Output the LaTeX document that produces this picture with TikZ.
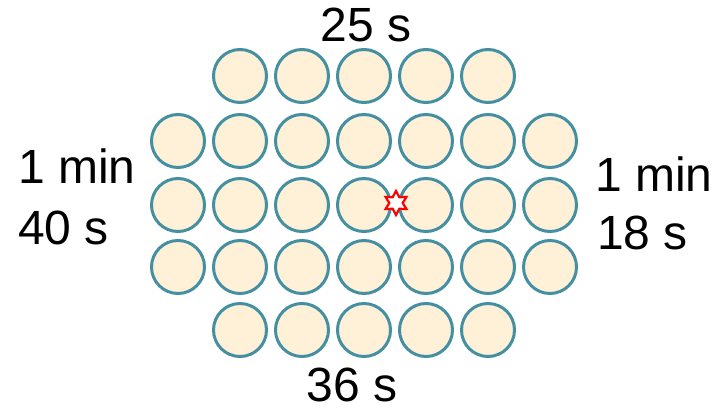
\documentclass[tikz,border=0pt]{standalone}
\usepackage{fontspec}
\setmainfont{Liberation Sans}
\usetikzlibrary{shapes.geometric}
\definecolor{discedge}{RGB}{68,144,162}
\definecolor{discfill}{RGB}{255,240,216}
\tikzset{
  disc/.style={circle, draw=discedge, fill=discfill, line width=3pt, minimum size=53pt, inner sep=0pt},
  timelabel/.style={font=\fontsize{48}{48}\selectfont, inner sep=0pt, anchor=base}
}
\begin{document}
\begin{tikzpicture}[x=1pt, y=-1pt]
  \useasboundingbox (0,0) rectangle (720,411);

  % Top and bottom rows: five discs each
  \foreach \c in {2,...,6} {
    \node[disc] (d-1-\c) at ({178+62*(\c-1)}, 76) {};
    \node[disc] (d-5-\c) at ({178+62*(\c-1)}, 330) {};
  }

  % Middle rows: seven discs each
  \foreach \r/\y in {2/141, 3/205, 4/267} {
    \foreach \c in {1,...,7} {
      \node[disc] (d-\r-\c) at ({178+62*(\c-1)}, \y) {};
    }
  }

  % Spark between the two central discs
  \node[star, star points=6, star point ratio=1.8, draw=red, fill=white,
        line width=2.2pt, minimum size=24pt, inner sep=0pt] (spark) at (396,203) {};

  % Time labels
  \node[timelabel] (toptime) at (366,42) {25 s};
  \node[timelabel] (bottomtime) at (352,402) {36 s};
  \node[timelabel, anchor=base west] (leftmin) at (18,184) {1 min};
  \node[timelabel, anchor=base west] (leftsec) at (18,245) {40 s};
  \node[timelabel, anchor=base west] (rightmin) at (595,192) {1 min};
  \node[timelabel, anchor=base west] (rightsec) at (597,250) {18 s};
\end{tikzpicture}
\end{document}
